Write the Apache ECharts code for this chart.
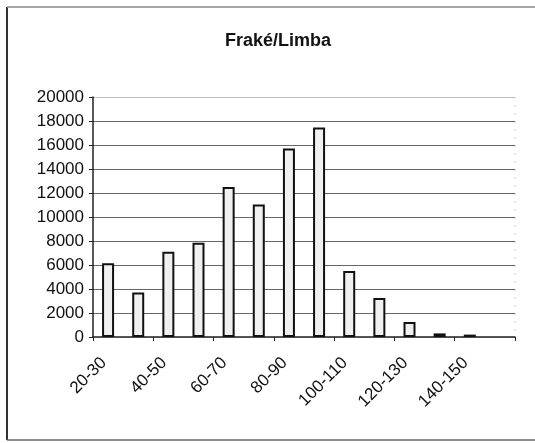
<!DOCTYPE html>
<html>
<head>
<meta charset="utf-8">
<script src="https://cdn.jsdelivr.net/npm/echarts@6/dist/echarts.min.js"></script>
<style>html,body{margin:0;padding:0;background:#fff;}#c{width:535px;height:443px;}</style>
</head>
<body>
<div id="c"></div>
<script>
const title = 'Fraké/Limba';
const categories = ['20-30','30-40','40-50','50-60','60-70','70-80','80-90','90-100','100-110','110-120','120-130','130-140','140-150','150-160'];
const values = [6150, 3700, 7100, 7850, 12500, 11050, 15700, 17450, 5500, 3250, 1250, 300, 200, null];
const yTicks = {min: 0, max: 20000, interval: 2000};

const chart = echarts.init(document.getElementById('c'));
chart.setOption({
  backgroundColor: '#fff',
  animation: false,
  title: {
    text: title, left: 273, top: 27, textAlign: 'center',
    textStyle: {fontFamily: 'Liberation Sans', fontWeight: 'bold', fontSize: 18, color: '#111'}
  },
  grid: {left: 93, right: 20, top: 97, bottom: 106},
  xAxis: {
    type: 'category', data: categories,
    axisLine: {lineStyle: {color: '#222', width: 1.5}},
    axisTick: {show: true, length: 4, lineStyle: {color: '#222'}},
    axisLabel: {interval: 1, rotate: 45, margin: 19, fontFamily: 'Liberation Sans', fontSize: 17, color: '#111',
      padding: [0, 6, 0, 0]}
  },
  yAxis: {
    type: 'value', min: yTicks.min, max: yTicks.max, interval: yTicks.interval,
    axisLine: {show: true, lineStyle: {color: '#222', width: 1.5}},
    axisTick: {show: true, length: 4, lineStyle: {color: '#222'}},
    axisLabel: {margin: 9, fontFamily: 'Liberation Sans', fontSize: 17, color: '#111', formatter: v => String(v)},
    splitLine: {show: true, lineStyle: {color: ['#ccc','#666','#666','#666','#666','#666','#666','#666','#666','#666','#bbb'], width: 1}}
  },
  series: [{
    type: 'bar', data: values, barWidth: 12,
    itemStyle: {color: '#f0f0f0', borderColor: '#111', borderWidth: 2}
  }],
  graphic: [
    {type: 'line', shape: {x1: 7, y1: 7, x2: 7, y2: 440}, style: {stroke: '#333', lineWidth: 2}},
    {type: 'line', shape: {x1: 7, y1: 7, x2: 535, y2: 7}, style: {stroke: '#888', lineWidth: 1.5}},
    {type: 'line', shape: {x1: 7, y1: 440, x2: 535, y2: 440}, style: {stroke: '#666', lineWidth: 1.5}},
    {type: 'line', shape: {x1: 515, y1: 97, x2: 515, y2: 337}, style: {stroke: '#ccc', lineWidth: 1, lineDash: [2, 6]}}
  ]
});
</script>
</body>
</html>
